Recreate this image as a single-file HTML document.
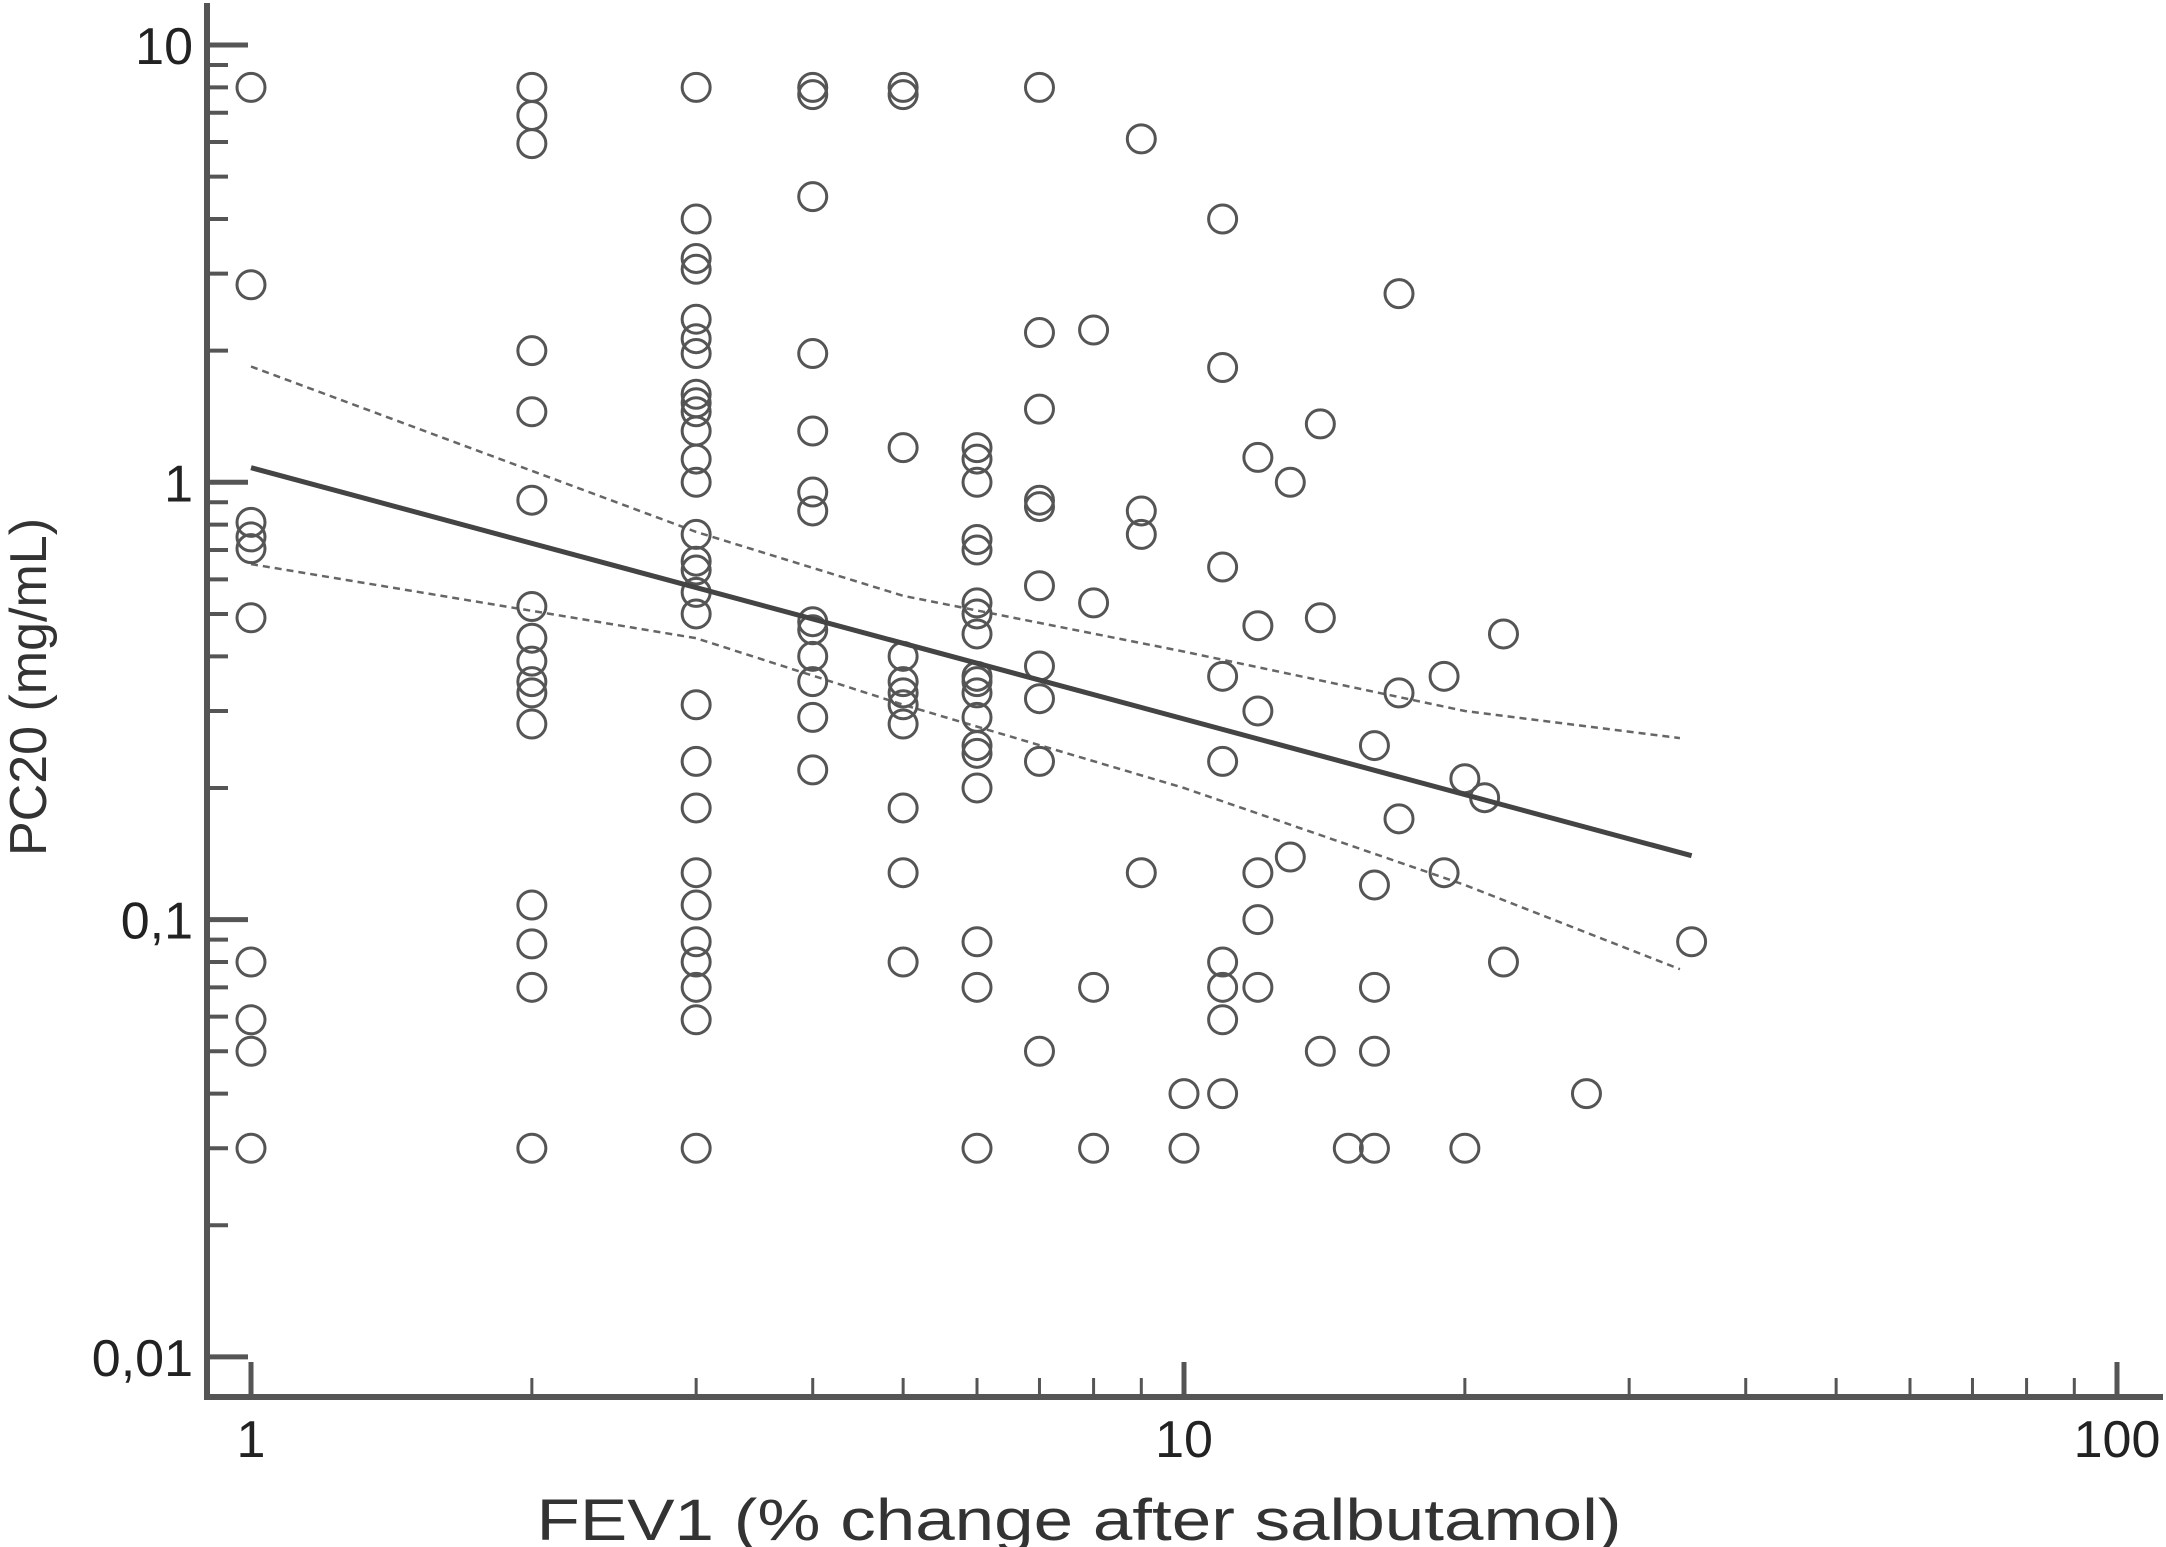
<!DOCTYPE html>
<html><head><meta charset="utf-8"><style>
html,body{margin:0;padding:0;background:#fff;}
svg{display:block;font-family:"Liberation Sans",Arial,sans-serif;}
</style></head><body>
<svg id="chart" width="2166" height="1547" viewBox="0 0 2166 1547" xmlns="http://www.w3.org/2000/svg">
<g id="axes"></g>
<g id="ci"></g>
<g id="pts"></g>
<g id="reg"></g>
<text x="1079" y="1540" font-size="58" fill="#333" text-anchor="middle" textLength="1085" lengthAdjust="spacingAndGlyphs">FEV1 (% change after salbutamol)</text>
<text transform="translate(46,687) rotate(-90)" font-size="52" fill="#333" text-anchor="middle">PC20 (mg/mL)</text>
</svg>
<script>
const xTickVals=[1,10,100];
const xTickLabels=["1","10","100"];
const yTickVals=[10,1,0.1,0.01];
const yTickLabels=["10","1","0,1","0,01"];
const ptX=[1,1,1,1,1,1,1,1,1,1,
2,2,2,2,2,2,2,2,2,2,2,2,2,2,2,2,
3,3,3,3,3,3,3,3,3,3,3,3,3,3,3,3,3,3,3,3,3,3,3,3,3,3,3,3,
4,4,4,4,4,4,4,4,4,4,4,4,4,
5,5,5,5,5,5,5,5,5,5,5,
6,6,6,6,6,6,6,6,6,6,6,6,6,6,6,6,6,6,
7,7,7,7,7,7,7,7,7,7,
8,8,8,8,
9,9,9,9,
10,10,
11,11,11,11,11,11,11,11,11,
12,12,12,12,12,12,
13,13,
14,14,14,
15,
16,16,16,16,16,
17,17,17,
19,19,
20,20,
21,
22,22,
27,
35];
const ptY=[8,2.83,0.81,0.75,0.705,0.49,0.08,0.059,0.05,0.03,
8,6.9,5.95,2.0,1.45,0.91,0.52,0.44,0.39,0.35,0.33,0.28,0.108,0.088,0.07,0.03,
8,4.0,3.25,3.07,2.36,2.13,1.97,1.59,1.52,1.45,1.31,1.13,1.0,0.76,0.66,0.63,0.56,0.5,0.31,0.23,0.18,0.128,0.108,0.089,0.08,0.07,0.059,0.03,
8,7.7,4.5,1.97,1.31,0.95,0.86,0.48,0.46,0.4,0.35,0.29,0.22,
8,7.7,1.2,0.4,0.35,0.33,0.31,0.28,0.18,0.128,0.08,
1.2,1.13,1.0,0.74,0.7,0.53,0.5,0.45,0.36,0.35,0.33,0.29,0.25,0.24,0.2,0.089,0.07,0.03,
8,2.2,1.47,0.91,0.88,0.58,0.38,0.32,0.23,0.05,
2.23,0.53,0.07,0.03,
6.1,0.86,0.76,0.128,
0.04,0.03,
4.0,1.83,0.64,0.36,0.23,0.08,0.07,0.059,0.04,
1.14,0.47,0.3,0.128,0.1,0.07,
1.0,0.139,
1.36,0.49,0.05,
0.03,
0.25,0.12,0.07,0.05,0.03,
2.7,0.33,0.17,
0.36,0.128,
0.21,0.03,
0.19,
0.45,0.08,
0.04,
0.089];
const regX=[1,35];
const regY=[1.08,0.14];
const ciX=[1,3,5,10,20,34];
const ciUpper=[1.84,0.77,0.55,0.41,0.3,0.26];
const ciLower=[0.65,0.44,0.31,0.2,0.12,0.077];

const X0=251, XD=933, Y10=45, YD=437.3;
function sx(v){return X0+Math.log10(v)*XD;}
function sy(v){return Y10+(1-Math.log10(v))*YD;}
const NS="http://www.w3.org/2000/svg";
function mk(tag,attrs,parent){const e=document.createElementNS(NS,tag);for(const k in attrs)e.setAttribute(k,attrs[k]);parent.appendChild(e);return e;}
const axes=document.getElementById('axes');
const AC="#555";
let l=mk('line',{x1:207,y1:3,x2:207,y2:1400,stroke:AC,'stroke-width':6},axes);


l=mk('line',{x1:204,y1:1397,x2:2163,y2:1397,stroke:AC,'stroke-width':6},axes);


for(let d=-2;d<1;d++){
  for(let m=1;m<10;m++){
    const v=m*Math.pow(10,d);
    const t=mk('line',{x1:207,y1:sy(v),x2:m===1?248:228,y2:sy(v),stroke:AC,'stroke-width':m===1?5:4},axes);
    
    
  }
}
const t10=mk('line',{x1:207,y1:sy(10),x2:248,y2:sy(10),stroke:AC,'stroke-width':5},axes);


for(let d=0;d<2;d++){
  for(let m=1;m<10;m++){
    const v=m*Math.pow(10,d);
    const t=mk('line',{x1:sx(v),y1:1397,x2:sx(v),y2:m===1?1362:1378,stroke:AC,'stroke-width':m===1?5:3},axes);
    
    
  }
}
const t100=mk('line',{x1:sx(100),y1:1397,x2:sx(100),y2:1362,stroke:AC,'stroke-width':5},axes);


xTickVals.forEach((v,i)=>{
  const t=mk('text',{x:sx(v),y:1457,'font-size':52,fill:'#222','text-anchor':'middle'},axes);
  t.textContent=xTickLabels[i];
  
  
});
yTickVals.forEach((v,i)=>{
  const t=mk('text',{x:193,y:sy(v)+19,'font-size':52,fill:'#222','text-anchor':'end'},axes);
  t.textContent=yTickLabels[i];
  
  
});
const pts=document.getElementById('pts');
ptX.forEach((x,i)=>{
  const c=mk('circle',{cx:sx(x),cy:sy(ptY[i]),r:14,fill:'none',stroke:'#555','stroke-width':3},pts);
  
  
});
const reg=document.getElementById('reg');
const rl=mk('line',{x1:sx(regX[0]),y1:sy(regY[0]),x2:sx(regX[1]),y2:sy(regY[1]),stroke:'#444','stroke-width':5},reg);


const ci=document.getElementById('ci');
function band(arr,name){
  const d=ciX.map((x,i)=>(i?'L':'M')+sx(x).toFixed(1)+','+sy(arr[i]).toFixed(1)).join(' ');
  const p=mk('path',{d:d,fill:'none',stroke:'#666','stroke-width':2.5,'stroke-dasharray':'7,5'},ci);
  
  
}
band(ciUpper,'upper-confidence-band');
band(ciLower,'lower-confidence-band');
</script>
</body></html>
